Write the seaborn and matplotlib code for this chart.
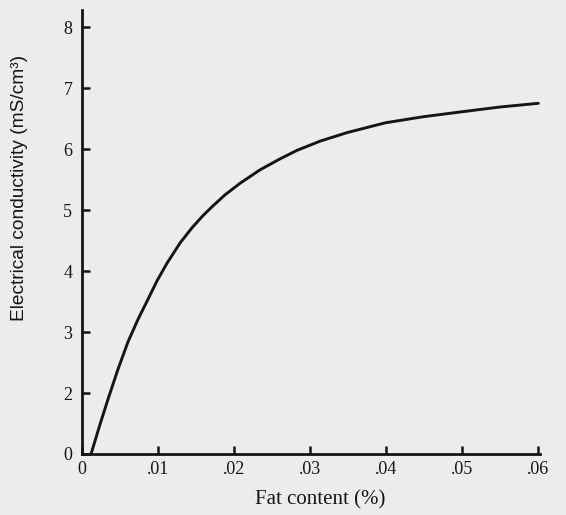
import numpy as np
import pandas as pd
import matplotlib
matplotlib.use("Agg")
import matplotlib.pyplot as plt
import seaborn as sns

# values
fat = [0.00119, 0.00237, 0.00343, 0.00474, 0.00606, 0.00738, 0.00870, 0.00988,
       0.01120, 0.01291, 0.01449, 0.01594, 0.01726, 0.01884, 0.02082, 0.02345,
       0.02609, 0.02833, 0.03136, 0.03491, 0.03992, 0.04493, 0.04993, 0.05507, 0.06008]
conductivity = [0.0, 0.97, 1.8, 2.39, 2.84, 3.21, 3.54, 3.84,
                4.13, 4.46, 4.71, 4.91, 5.07, 5.25, 5.44, 5.66,
                5.84, 5.98, 6.13, 6.27, 6.43, 6.53, 6.61, 6.69, 6.75]
x_ticks = [0, 0.01, 0.02, 0.03, 0.04, 0.05, 0.06]
x_labels = ["0", ".01", ".02", ".03", ".04", ".05", ".06"]
y_ticks = [0, 2, 3, 4, 5, 6, 7, 8]
y_labels = ["0", "2", "3", "4", "5", "6", "7", "8"]

df = pd.DataFrame({"fat": fat, "cond": conductivity})

sns.set_style("ticks")
bg = "#ececec"
ink = "#151515"
serif = ["Liberation Serif", "DejaVu Serif"]
sans = ["Liberation Sans", "DejaVu Sans"]

fig = plt.figure(figsize=(5.66, 5.15), dpi=100, facecolor=bg)
ax = fig.add_axes([82 / 566, 1 - 454 / 515, 458 / 566, 444 / 515])
ax.set_facecolor(bg)


# the original axis squeezes 0..2 into one step
def fwd(v):
    v = np.asarray(v, dtype=float)
    return np.where(v < 2, v / 2, v - 1)


def inv(s):
    s = np.asarray(s, dtype=float)
    return np.where(s < 1, s * 2, s + 1)


ax.set_yscale("function", functions=(fwd, inv))

sns.lineplot(data=df, x="fat", y="cond", ax=ax, color=ink, lw=2.1, sort=True)

ax.set_xlim(0, 0.0603)
ax.set_ylim(0, 8.28)
ax.set_xticks(x_ticks)
ax.set_xticklabels(x_labels, family=serif, fontsize=13, color=ink)
ax.set_yticks(y_ticks)
ax.set_yticklabels(y_labels, family=serif, fontsize=13, color=ink)
ax.tick_params(axis="both", direction="in", length=6, width=1.8, color=ink)
ax.tick_params(axis="x", pad=5)
ax.tick_params(axis="y", pad=7)

for side in ["top", "right"]:
    ax.spines[side].set_visible(False)
for side in ["left", "bottom"]:
    ax.spines[side].set_linewidth(2)
    ax.spines[side].set_color(ink)

ax.set_xlabel("")
ax.set_ylabel("")
fig.text(320 / 566, 1 - 500 / 515, "Fat content (%)", family=serif, fontsize=15,
         color=ink, ha="center", va="center")
fig.text(20 / 566, 1 - 188 / 515, "Electrical conductivity (mS/cm³)", family=sans,
         fontsize=13.8, color=ink, ha="center", va="center", rotation=90)

fig.savefig("out.png", dpi=100, facecolor=bg)
